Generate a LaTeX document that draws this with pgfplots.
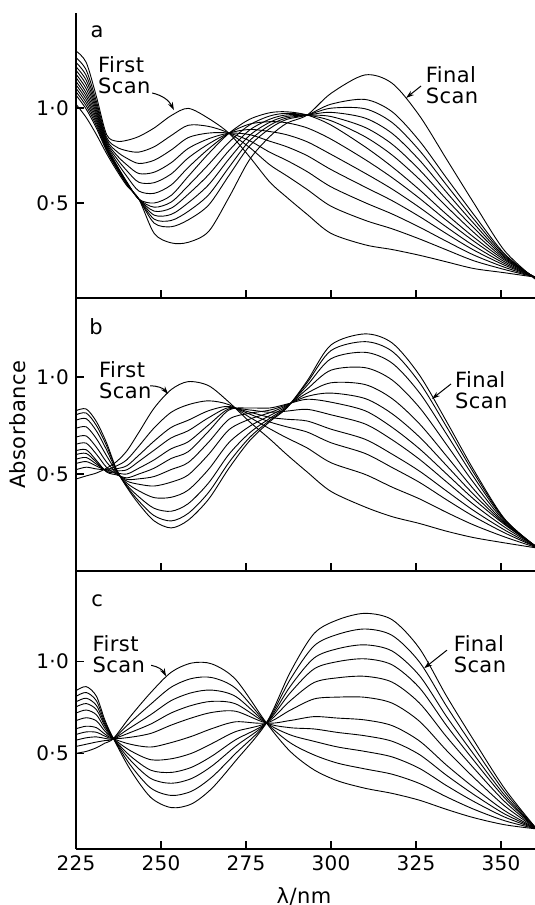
\documentclass[border=0pt]{standalone}
\usepackage{fontspec}
\setmainfont{DejaVu Sans}[LetterSpace=2]
\usepackage{pgfplots}
\usepackage{pgfplotstable}
\pgfplotsset{compat=1.18}
\usetikzlibrary{arrows.meta}

% panel a: 13 scans (c0 = first, c12 = final)
\pgfplotstableread{
nm c0 c1 c2 c3 c4 c5 c6 c7 c8 c9 c10 c11 c12
225 1.30 1.265 1.24 1.217 1.198 1.178 1.16 1.14 1.122 1.104 1.086 1.068 1.02
228 1.24 1.20 1.171 1.146 1.123 1.101 1.08 1.062 1.045 1.028 1.011 0.994 0.95
231 1.06 1.035 1.017 1.001 0.987 0.973 0.96 0.946 0.933 0.92 0.907 0.894 0.86
234 0.86 0.845 0.834 0.825 0.816 0.808 0.80 0.794 0.789 0.784 0.779 0.774 0.76
237 0.825 0.794 0.771 0.751 0.734 0.716 0.70 0.696 0.692 0.688 0.684 0.68 0.67
240 0.83 0.775 0.735 0.70 0.669 0.639 0.61 0.607 0.605 0.602 0.599 0.597 0.59
243.5 0.85 0.768 0.708 0.655 0.609 0.563 0.52 0.52 0.52 0.52 0.52 0.52 0.52
248 0.895 0.796 0.725 0.662 0.607 0.551 0.50 0.478 0.457 0.436 0.415 0.394 0.34
253 0.96 0.855 0.779 0.712 0.653 0.595 0.54 0.505 0.473 0.44 0.408 0.375 0.29
258 0.998 0.909 0.844 0.787 0.737 0.687 0.64 0.591 0.546 0.501 0.456 0.411 0.293
264 0.945 0.903 0.868 0.838 0.811 0.785 0.76 0.703 0.649 0.596 0.543 0.489 0.35
270 0.867 0.867 0.867 0.867 0.867 0.867 0.867 0.82 0.776 0.732 0.688 0.645 0.53
276 0.744 0.793 0.828 0.86 0.887 0.915 0.94 0.91 0.883 0.855 0.827 0.799 0.727
282 0.61 0.701 0.767 0.825 0.876 0.928 0.975 0.958 0.941 0.925 0.909 0.892 0.85
287 0.53 0.643 0.724 0.796 0.859 0.922 0.98 0.972 0.964 0.956 0.948 0.94 0.92
293 0.44 0.571 0.665 0.749 0.822 0.895 0.963 0.963 0.963 0.963 0.963 0.963 0.963
300 0.34 0.483 0.585 0.676 0.756 0.836 0.91 0.933 0.955 0.977 0.999 1.02 1.077
310 0.28 0.409 0.502 0.584 0.657 0.729 0.796 0.849 0.898 0.947 0.996 1.045 1.174
318 0.255 0.364 0.442 0.512 0.573 0.633 0.69 0.752 0.809 0.866 0.923 0.98 1.13
326 0.225 0.311 0.373 0.429 0.477 0.525 0.57 0.625 0.675 0.726 0.777 0.827 0.96
334 0.19 0.253 0.298 0.338 0.373 0.408 0.44 0.481 0.518 0.556 0.594 0.631 0.73
342 0.155 0.196 0.226 0.252 0.275 0.299 0.32 0.345 0.369 0.392 0.415 0.439 0.50
351 0.133 0.15 0.162 0.173 0.182 0.191 0.20 0.207 0.214 0.22 0.227 0.233 0.25
360 0.11 0.11 0.11 0.11 0.11 0.11 0.11 0.109 0.108 0.106 0.105 0.104 0.10
}\tabA

% panel b: 12 scans
\pgfplotstableread{
nm c0 c1 c2 c3 c4 c5 c6 c7 c8 c9 c10 c11
225 0.474 0.522 0.554 0.576 0.60 0.62 0.653 0.69 0.735 0.777 0.805 0.826
228 0.49 0.535 0.564 0.585 0.606 0.625 0.659 0.696 0.743 0.785 0.814 0.835
231 0.505 0.526 0.541 0.551 0.561 0.57 0.602 0.638 0.682 0.722 0.75 0.77
234 0.53 0.523 0.519 0.516 0.513 0.51 0.534 0.561 0.594 0.624 0.645 0.66
237 0.565 0.542 0.527 0.516 0.505 0.495 0.499 0.504 0.509 0.514 0.518 0.52
240 0.62 0.574 0.543 0.522 0.50 0.48 0.472 0.463 0.452 0.442 0.435 0.43
243.5 0.715 0.644 0.597 0.565 0.53 0.50 0.475 0.447 0.413 0.382 0.36 0.345
248 0.84 0.738 0.67 0.623 0.573 0.53 0.487 0.438 0.378 0.323 0.285 0.258
253 0.935 0.818 0.74 0.686 0.63 0.58 0.523 0.458 0.38 0.308 0.258 0.222
258 0.976 0.857 0.777 0.723 0.666 0.615 0.559 0.495 0.417 0.347 0.297 0.262
264 0.955 0.877 0.826 0.79 0.753 0.72 0.664 0.601 0.524 0.454 0.405 0.37
270 0.87 0.857 0.848 0.842 0.836 0.83 0.782 0.728 0.662 0.602 0.56 0.53
276 0.77 0.793 0.809 0.819 0.83 0.84 0.813 0.782 0.745 0.711 0.687 0.67
282 0.68 0.733 0.768 0.792 0.818 0.84 0.829 0.816 0.801 0.787 0.777 0.77
287 0.60 0.686 0.743 0.782 0.824 0.86 0.857 0.853 0.849 0.845 0.842 0.84
293 0.51 0.634 0.716 0.773 0.833 0.885 0.90 0.917 0.938 0.957 0.971 0.98
300 0.41 0.558 0.661 0.731 0.805 0.87 0.917 0.97 1.035 1.094 1.136 1.165
310 0.33 0.498 0.606 0.679 0.758 0.826 0.889 0.961 1.048 1.127 1.182 1.222
318 0.28 0.432 0.533 0.602 0.676 0.74 0.81 0.888 0.984 1.071 1.132 1.175
326 0.245 0.372 0.457 0.515 0.576 0.63 0.691 0.759 0.843 0.919 0.972 1.01
334 0.205 0.302 0.367 0.412 0.459 0.50 0.543 0.592 0.651 0.705 0.743 0.77
342 0.172 0.237 0.281 0.311 0.342 0.37 0.394 0.421 0.454 0.484 0.505 0.52
351 0.145 0.176 0.197 0.212 0.227 0.24 0.245 0.25 0.257 0.263 0.267 0.27
360 0.12 0.123 0.126 0.127 0.129 0.13 0.13 0.13 0.13 0.13 0.13 0.13
}\tabB

% panel c: 11 scans, two clean isosbestic points
\pgfplotstableread{
nm c0 c1 c2 c3 c4 c5 c6 c7 c8 c9 c10
225 0.50 0.537 0.571 0.602 0.633 0.677 0.718 0.752 0.779 0.809 0.84
228 0.51 0.549 0.584 0.616 0.647 0.693 0.735 0.770 0.799 0.830 0.862
231 0.53 0.561 0.589 0.614 0.639 0.676 0.709 0.737 0.760 0.785 0.81
233.5 0.555 0.569 0.581 0.593 0.604 0.620 0.635 0.648 0.658 0.669 0.68
236 0.58 0.58 0.58 0.58 0.58 0.58 0.58 0.58 0.58 0.58 0.58
241 0.70 0.668 0.639 0.613 0.587 0.549 0.514 0.485 0.462 0.436 0.41
247 0.83 0.767 0.710 0.659 0.608 0.534 0.465 0.408 0.363 0.311 0.26
253 0.94 0.859 0.786 0.719 0.653 0.558 0.470 0.396 0.337 0.271 0.205
259 0.99 0.906 0.829 0.760 0.692 0.592 0.50 0.424 0.363 0.294 0.225
265 0.985 0.911 0.843 0.782 0.722 0.634 0.553 0.485 0.431 0.371 0.31
272 0.90 0.852 0.808 0.768 0.728 0.671 0.618 0.574 0.539 0.50 0.46
281 0.665 0.665 0.665 0.665 0.665 0.665 0.665 0.665 0.665 0.665 0.665
288 0.51 0.557 0.60 0.639 0.678 0.734 0.785 0.828 0.863 0.901 0.94
295 0.41 0.491 0.565 0.632 0.699 0.795 0.884 0.958 1.017 1.083 1.15
302 0.35 0.446 0.534 0.613 0.691 0.805 0.91 0.998 1.068 1.146 1.225
310 0.31 0.415 0.51 0.595 0.681 0.804 0.918 1.013 1.089 1.175 1.26
318 0.282 0.386 0.48 0.565 0.65 0.772 0.886 0.98 1.055 1.14 1.225
326 0.245 0.336 0.418 0.493 0.567 0.674 0.773 0.856 0.922 0.996 1.07
334 0.195 0.263 0.324 0.38 0.435 0.515 0.589 0.65 0.699 0.755 0.81
342 0.15 0.196 0.238 0.276 0.314 0.368 0.419 0.461 0.494 0.532 0.57
351 0.112 0.134 0.154 0.171 0.189 0.215 0.239 0.259 0.274 0.292 0.31
360 0.09 0.091 0.092 0.093 0.094 0.095 0.096 0.097 0.098 0.099 0.10
}\tabC

\newcommand{\lab}{\fontsize{10}{11}\selectfont}
\newcommand{\ann}{\fontsize{10.5}{10.5}\selectfont}

\pgfplotsset{panel/.style={
  scale only axis, width=229.5pt, anchor=south west,
  xmin=225, xmax=360,
  axis x line=bottom, axis y line=left,
  axis line style={-, line width=0.6pt},
  tick align=inside, major tick length=4pt,
  tick style={black, line width=0.6pt},
  xtick={225,250,275,300,325,350},
  ytick={0.5,1.0}, yticklabels={0·5,1·0},
  every tick label/.append style={font=\lab},
}}
\tikzset{lbl/.style={font=\ann, align=left, inner sep=0pt},
  scanarrow/.style={-{Stealth[length=4pt,width=2.6pt]}, line width=0.5pt}}

\begin{document}
\begin{tikzpicture}
\useasboundingbox (-38pt,-28pt) rectangle (229.5pt,424.5pt);

% panel c (bottom)
\begin{axis}[panel, at={(0pt,0pt)}, height=139pt, ymin=-0.02, ymax=1.49,
  xticklabels={225,250,275,300,325,350}]
\pgfplotsinvokeforeach{0,...,10}{
  \addplot[black, line width=0.45pt, smooth] table[x=nm, y=c#1] {\tabC};
}
\node[font=\ann] at (axis cs:231.2,1.33) {c};
\node[lbl] at (axis cs:237.6,1.038) {First\\Scan};
\draw[scanarrow] (axis cs:247.1,0.978) to[bend left=25] (axis cs:251.5,0.918);
\node[lbl] at (axis cs:343.8,1.038) {Final\\Scan};
\draw[scanarrow] (axis cs:334.1,1.06) -- (axis cs:327.4,0.962);
\end{axis}

% panel b (middle)
\begin{axis}[panel, at={(0pt,139pt)}, height=136.5pt, ymin=0, ymax=1.407,
  xticklabels={}]
\pgfplotsinvokeforeach{0,...,11}{
  \addplot[black, line width=0.45pt, smooth] table[x=nm, y=c#1] {\tabB};
}
\node[font=\ann] at (axis cs:230.9,1.258) {b};
\node[lbl] at (axis cs:239.5,0.985) {First\\Scan};
\draw[scanarrow] (axis cs:246.8,0.954) to[bend left=25] (axis cs:252.1,0.912);
\node[lbl] at (axis cs:344.2,0.933) {Final\\Scan};
\draw[scanarrow] (axis cs:335.3,0.964) -- (axis cs:329.7,0.887);
\end{axis}

% panel a (top)
\begin{axis}[panel, at={(0pt,275.5pt)}, height=142.5pt, ymin=0, ymax=1.5,
  xticklabels={}]
\pgfplotsinvokeforeach{0,...,12}{
  \addplot[black, line width=0.45pt, smooth] table[x=nm, y=c#1] {\tabA};
}
\node[font=\ann] at (axis cs:231.2,1.40) {a};
\node[lbl] at (axis cs:239.2,1.174) {First\\Scan};
\draw[scanarrow] (axis cs:247.4,1.079) to[bend left=25] (axis cs:253.8,0.989);
\node[lbl] at (axis cs:335.6,1.121) {Final\\Scan};
\draw[scanarrow] (axis cs:326.5,1.116) -- (axis cs:322.1,1.053);
\end{axis}

\node[font=\ann, rotate=90] at (-29pt,212pt) {Absorbance};
\node[font=\ann] at (114pt,-23.5pt) {λ/nm};
\end{tikzpicture}
\end{document}
